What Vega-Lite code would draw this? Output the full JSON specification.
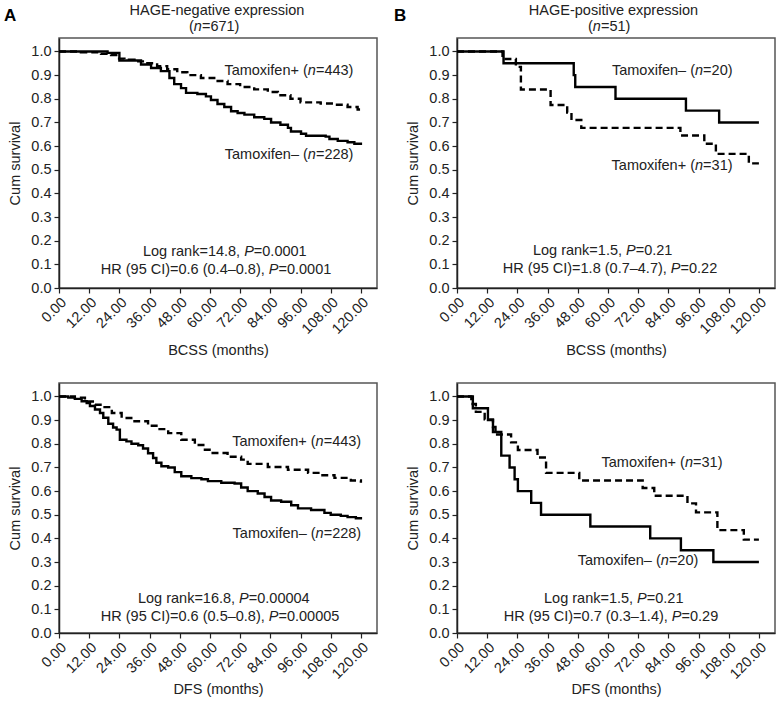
{
  "$schema": "https://vega.github.io/schema/vega-lite/v6.json",
  "padding": {"left": 3, "top": 2, "right": 2, "bottom": 2},
  "background": "white",
  "config": {
    "font": "Liberation Sans",
    "view": {"stroke": "#555", "strokeWidth": 1.5},
    "axis": {"labelFont": "Liberation Sans", "labelFontSize": 14.5, "labelColor": "#222", "titleFont": "Liberation Sans", "titleFontSize": 14.5, "titleFontWeight": "normal", "titleColor": "#222", "domainColor": "#222", "tickColor": "#222", "grid": false, "tickSize": 5, "domainWidth": 1.5, "tickWidth": 1.2},
    "text": {"font": "Liberation Sans", "fontSize": 14.5, "color": "#222"}
  },
  "datasets": {
    "curves": [
      {"p":"TL","g":"Tamoxifen–","t":0,"s":1.0},{"p":"TL","g":"Tamoxifen–","t":19.3,"s":0.994},{"p":"TL","g":"Tamoxifen–","t":24,"s":0.962},{"p":"TL","g":"Tamoxifen–","t":32.6,"s":0.945},{"p":"TL","g":"Tamoxifen–","t":36.6,"s":0.93},{"p":"TL","g":"Tamoxifen–","t":40.5,"s":0.917},{"p":"TL","g":"Tamoxifen–","t":43.9,"s":0.888},{"p":"TL","g":"Tamoxifen–","t":45.8,"s":0.862},{"p":"TL","g":"Tamoxifen–","t":48.5,"s":0.845},{"p":"TL","g":"Tamoxifen–","t":50.5,"s":0.825},{"p":"TL","g":"Tamoxifen–","t":55,"s":0.82},{"p":"TL","g":"Tamoxifen–","t":58.4,"s":0.81},{"p":"TL","g":"Tamoxifen–","t":60.4,"s":0.795},{"p":"TL","g":"Tamoxifen–","t":63,"s":0.778},{"p":"TL","g":"Tamoxifen–","t":65.7,"s":0.765},{"p":"TL","g":"Tamoxifen–","t":68.4,"s":0.747},{"p":"TL","g":"Tamoxifen–","t":71,"s":0.74},{"p":"TL","g":"Tamoxifen–","t":73.7,"s":0.733},{"p":"TL","g":"Tamoxifen–","t":77.6,"s":0.722},{"p":"TL","g":"Tamoxifen–","t":81.6,"s":0.715},{"p":"TL","g":"Tamoxifen–","t":84.3,"s":0.70},{"p":"TL","g":"Tamoxifen–","t":88,"s":0.69},{"p":"TL","g":"Tamoxifen–","t":91,"s":0.677},{"p":"TL","g":"Tamoxifen–","t":92.2,"s":0.662},{"p":"TL","g":"Tamoxifen–","t":96.2,"s":0.652},{"p":"TL","g":"Tamoxifen–","t":98.2,"s":0.644},{"p":"TL","g":"Tamoxifen–","t":106,"s":0.64},{"p":"TL","g":"Tamoxifen–","t":107.5,"s":0.63},{"p":"TL","g":"Tamoxifen–","t":110.8,"s":0.622},{"p":"TL","g":"Tamoxifen–","t":114.7,"s":0.616},{"p":"TL","g":"Tamoxifen–","t":117.4,"s":0.61},{"p":"TL","g":"Tamoxifen–","t":120,"s":0.605},
      {"p":"TL","g":"Tamoxifen+","t":0,"s":1.0},{"p":"TL","g":"Tamoxifen+","t":8.7,"s":0.997},{"p":"TL","g":"Tamoxifen+","t":16.7,"s":0.99},{"p":"TL","g":"Tamoxifen+","t":20.7,"s":0.985},{"p":"TL","g":"Tamoxifen+","t":23.3,"s":0.97},{"p":"TL","g":"Tamoxifen+","t":26,"s":0.965},{"p":"TL","g":"Tamoxifen+","t":30,"s":0.958},{"p":"TL","g":"Tamoxifen+","t":34,"s":0.95},{"p":"TL","g":"Tamoxifen+","t":39,"s":0.938},{"p":"TL","g":"Tamoxifen+","t":43,"s":0.925},{"p":"TL","g":"Tamoxifen+","t":47,"s":0.912},{"p":"TL","g":"Tamoxifen+","t":51,"s":0.9},{"p":"TL","g":"Tamoxifen+","t":56.4,"s":0.888},{"p":"TL","g":"Tamoxifen+","t":61.7,"s":0.875},{"p":"TL","g":"Tamoxifen+","t":67,"s":0.862},{"p":"TL","g":"Tamoxifen+","t":72,"s":0.85},{"p":"TL","g":"Tamoxifen+","t":77.6,"s":0.84},{"p":"TL","g":"Tamoxifen+","t":83,"s":0.829},{"p":"TL","g":"Tamoxifen+","t":87,"s":0.815},{"p":"TL","g":"Tamoxifen+","t":92,"s":0.8},{"p":"TL","g":"Tamoxifen+","t":96,"s":0.785},{"p":"TL","g":"Tamoxifen+","t":104,"s":0.78},{"p":"TL","g":"Tamoxifen+","t":109.4,"s":0.775},{"p":"TL","g":"Tamoxifen+","t":114.7,"s":0.765},{"p":"TL","g":"Tamoxifen+","t":118.7,"s":0.755},{"p":"TL","g":"Tamoxifen+","t":120,"s":0.752},
      {"p":"TR","g":"Tamoxifen–","t":0,"s":1.0},{"p":"TR","g":"Tamoxifen–","t":18.5,"s":0.95},{"p":"TR","g":"Tamoxifen–","t":46.4,"s":0.9},{"p":"TR","g":"Tamoxifen–","t":47,"s":0.85},{"p":"TR","g":"Tamoxifen–","t":63,"s":0.8},{"p":"TR","g":"Tamoxifen–","t":91,"s":0.75},{"p":"TR","g":"Tamoxifen–","t":104.2,"s":0.7},{"p":"TR","g":"Tamoxifen–","t":120,"s":0.7},
      {"p":"TR","g":"Tamoxifen+","t":0,"s":1.0},{"p":"TR","g":"Tamoxifen+","t":18.1,"s":0.968},{"p":"TR","g":"Tamoxifen+","t":23.4,"s":0.935},{"p":"TR","g":"Tamoxifen+","t":25.4,"s":0.839},{"p":"TR","g":"Tamoxifen+","t":37.2,"s":0.774},{"p":"TR","g":"Tamoxifen+","t":43.8,"s":0.742},{"p":"TR","g":"Tamoxifen+","t":45.5,"s":0.71},{"p":"TR","g":"Tamoxifen+","t":49.4,"s":0.677},{"p":"TR","g":"Tamoxifen+","t":88.8,"s":0.645},{"p":"TR","g":"Tamoxifen+","t":98.3,"s":0.61},{"p":"TR","g":"Tamoxifen+","t":102.9,"s":0.567},{"p":"TR","g":"Tamoxifen+","t":116,"s":0.527},{"p":"TR","g":"Tamoxifen+","t":120,"s":0.527},
      {"p":"BL","g":"Tamoxifen–","t":0,"s":1.0},{"p":"BL","g":"Tamoxifen–","t":3.7,"s":0.995},{"p":"BL","g":"Tamoxifen–","t":6.3,"s":0.99},{"p":"BL","g":"Tamoxifen–","t":9,"s":0.98},{"p":"BL","g":"Tamoxifen–","t":11,"s":0.972},{"p":"BL","g":"Tamoxifen–","t":12.3,"s":0.96},{"p":"BL","g":"Tamoxifen–","t":14.3,"s":0.945},{"p":"BL","g":"Tamoxifen–","t":16.3,"s":0.93},{"p":"BL","g":"Tamoxifen–","t":17.6,"s":0.91},{"p":"BL","g":"Tamoxifen–","t":19.6,"s":0.885},{"p":"BL","g":"Tamoxifen–","t":21.5,"s":0.869},{"p":"BL","g":"Tamoxifen–","t":22.9,"s":0.86},{"p":"BL","g":"Tamoxifen–","t":24.2,"s":0.817},{"p":"BL","g":"Tamoxifen–","t":26.8,"s":0.81},{"p":"BL","g":"Tamoxifen–","t":28.8,"s":0.8},{"p":"BL","g":"Tamoxifen–","t":31.5,"s":0.794},{"p":"BL","g":"Tamoxifen–","t":33.4,"s":0.78},{"p":"BL","g":"Tamoxifen–","t":35.4,"s":0.76},{"p":"BL","g":"Tamoxifen–","t":37.4,"s":0.74},{"p":"BL","g":"Tamoxifen–","t":38.7,"s":0.72},{"p":"BL","g":"Tamoxifen–","t":40.7,"s":0.705},{"p":"BL","g":"Tamoxifen–","t":43.4,"s":0.7},{"p":"BL","g":"Tamoxifen–","t":46,"s":0.68},{"p":"BL","g":"Tamoxifen–","t":48.6,"s":0.663},{"p":"BL","g":"Tamoxifen–","t":52.6,"s":0.655},{"p":"BL","g":"Tamoxifen–","t":56.6,"s":0.65},{"p":"BL","g":"Tamoxifen–","t":59.2,"s":0.642},{"p":"BL","g":"Tamoxifen–","t":64.5,"s":0.635},{"p":"BL","g":"Tamoxifen–","t":69.8,"s":0.632},{"p":"BL","g":"Tamoxifen–","t":72.4,"s":0.615},{"p":"BL","g":"Tamoxifen–","t":75,"s":0.6},{"p":"BL","g":"Tamoxifen–","t":79,"s":0.59},{"p":"BL","g":"Tamoxifen–","t":81.7,"s":0.575},{"p":"BL","g":"Tamoxifen–","t":84.3,"s":0.56},{"p":"BL","g":"Tamoxifen–","t":88.3,"s":0.555},{"p":"BL","g":"Tamoxifen–","t":92.3,"s":0.54},{"p":"BL","g":"Tamoxifen–","t":95,"s":0.527},{"p":"BL","g":"Tamoxifen–","t":100.2,"s":0.52},{"p":"BL","g":"Tamoxifen–","t":105.5,"s":0.508},{"p":"BL","g":"Tamoxifen–","t":108,"s":0.5},{"p":"BL","g":"Tamoxifen–","t":112,"s":0.495},{"p":"BL","g":"Tamoxifen–","t":114.7,"s":0.49},{"p":"BL","g":"Tamoxifen–","t":118,"s":0.485},{"p":"BL","g":"Tamoxifen–","t":120,"s":0.48},
      {"p":"BL","g":"Tamoxifen+","t":0,"s":1.0},{"p":"BL","g":"Tamoxifen+","t":6.3,"s":0.995},{"p":"BL","g":"Tamoxifen+","t":10.3,"s":0.979},{"p":"BL","g":"Tamoxifen+","t":14.3,"s":0.965},{"p":"BL","g":"Tamoxifen+","t":17,"s":0.955},{"p":"BL","g":"Tamoxifen+","t":21,"s":0.93},{"p":"BL","g":"Tamoxifen+","t":24.9,"s":0.909},{"p":"BL","g":"Tamoxifen+","t":30,"s":0.895},{"p":"BL","g":"Tamoxifen+","t":35.4,"s":0.876},{"p":"BL","g":"Tamoxifen+","t":39.4,"s":0.862},{"p":"BL","g":"Tamoxifen+","t":43.4,"s":0.845},{"p":"BL","g":"Tamoxifen+","t":48.6,"s":0.817},{"p":"BL","g":"Tamoxifen+","t":54,"s":0.795},{"p":"BL","g":"Tamoxifen+","t":58,"s":0.775},{"p":"BL","g":"Tamoxifen+","t":60.5,"s":0.761},{"p":"BL","g":"Tamoxifen+","t":67,"s":0.745},{"p":"BL","g":"Tamoxifen+","t":72.4,"s":0.733},{"p":"BL","g":"Tamoxifen+","t":75,"s":0.715},{"p":"BL","g":"Tamoxifen+","t":83,"s":0.702},{"p":"BL","g":"Tamoxifen+","t":91,"s":0.69},{"p":"BL","g":"Tamoxifen+","t":99,"s":0.677},{"p":"BL","g":"Tamoxifen+","t":104,"s":0.667},{"p":"BL","g":"Tamoxifen+","t":109.5,"s":0.656},{"p":"BL","g":"Tamoxifen+","t":116,"s":0.645},{"p":"BL","g":"Tamoxifen+","t":120,"s":0.635},
      {"p":"BR","g":"Tamoxifen–","t":0,"s":1.0},{"p":"BR","g":"Tamoxifen–","t":6.3,"s":0.95},{"p":"BR","g":"Tamoxifen–","t":12.3,"s":0.9},{"p":"BR","g":"Tamoxifen–","t":14.3,"s":0.85},{"p":"BR","g":"Tamoxifen–","t":17.6,"s":0.75},{"p":"BR","g":"Tamoxifen–","t":20.9,"s":0.7},{"p":"BR","g":"Tamoxifen–","t":22.9,"s":0.65},{"p":"BR","g":"Tamoxifen–","t":24.2,"s":0.6},{"p":"BR","g":"Tamoxifen–","t":29.5,"s":0.55},{"p":"BR","g":"Tamoxifen–","t":33.4,"s":0.5},{"p":"BR","g":"Tamoxifen–","t":53,"s":0.45},{"p":"BR","g":"Tamoxifen–","t":76.8,"s":0.4},{"p":"BR","g":"Tamoxifen–","t":89,"s":0.35},{"p":"BR","g":"Tamoxifen–","t":101.9,"s":0.3},{"p":"BR","g":"Tamoxifen–","t":120,"s":0.3},
      {"p":"BR","g":"Tamoxifen+","t":0,"s":1.0},{"p":"BR","g":"Tamoxifen+","t":5.7,"s":0.968},{"p":"BR","g":"Tamoxifen+","t":7.5,"s":0.935},{"p":"BR","g":"Tamoxifen+","t":11,"s":0.903},{"p":"BR","g":"Tamoxifen+","t":14.3,"s":0.871},{"p":"BR","g":"Tamoxifen+","t":15.3,"s":0.839},{"p":"BR","g":"Tamoxifen+","t":21.5,"s":0.806},{"p":"BR","g":"Tamoxifen+","t":24.2,"s":0.774},{"p":"BR","g":"Tamoxifen+","t":32,"s":0.742},{"p":"BR","g":"Tamoxifen+","t":35.4,"s":0.677},{"p":"BR","g":"Tamoxifen+","t":48.6,"s":0.645},{"p":"BR","g":"Tamoxifen+","t":73.8,"s":0.613},{"p":"BR","g":"Tamoxifen+","t":78.4,"s":0.58},{"p":"BR","g":"Tamoxifen+","t":91.6,"s":0.548},{"p":"BR","g":"Tamoxifen+","t":95,"s":0.51},{"p":"BR","g":"Tamoxifen+","t":103.5,"s":0.435},{"p":"BR","g":"Tamoxifen+","t":114,"s":0.395},{"p":"BR","g":"Tamoxifen+","t":120,"s":0.395}
    ],
    "notes": [
      {"p":"TL","pre":"Tamoxifen+ (","it":"n","suf":"=443)","t":98.9,"s":0.917},
      {"p":"TL","pre":"Tamoxifen– (","it":"n","suf":"=228)","t":98.9,"s":0.562},
      {"p":"TL","pre":"Log rank=14.8,","it":"P","suf":"=0.0001","t":72.0,"s":0.154},
      {"p":"TL","pre":"HR (95 CI)=0.6 (0.4–0.8),","it":"P","suf":"=0.0001","t":81.8,"s":0.076},
      {"p":"TL","pre":"(","it":"n","suf":"=671)","t":53.6,"s":1.104},
      {"p":"TR","pre":"Tamoxifen– (","it":"n","suf":"=20)","t":94.6,"s":0.918},
      {"p":"TR","pre":"Tamoxifen+ (","it":"n","suf":"=31)","t":94.6,"s":0.516},
      {"p":"TR","pre":"Log rank=1.5,","it":"P","suf":"=0.21","t":65.6,"s":0.156},
      {"p":"TR","pre":"HR (95 CI)=1.8 (0.7–4.7),","it":"P","suf":"=0.22","t":83.4,"s":0.08},
      {"p":"TR","pre":"(","it":"n","suf":"=51)","t":54,"s":1.104},
      {"p":"BL","pre":"Tamoxifen+ (","it":"n","suf":"=443)","t":102,"s":0.808},
      {"p":"BL","pre":"Tamoxifen– (","it":"n","suf":"=228)","t":102,"s":0.42},
      {"p":"BL","pre":"Log rank=16.8,","it":"P","suf":"=0.00004","t":70.0,"s":0.142},
      {"p":"BL","pre":"HR (95 CI)=0.6 (0.5–0.8),","it":"P","suf":"=0.00005","t":81.8,"s":0.067},
      {"p":"BR","pre":"Tamoxifen+ (","it":"n","suf":"=31)","t":90.6,"s":0.717},
      {"p":"BR","pre":"Tamoxifen– (","it":"n","suf":"=20)","t":81,"s":0.303},
      {"p":"BR","pre":"Log rank=1.5,","it":"P","suf":"=0.21","t":70.0,"s":0.143},
      {"p":"BR","pre":"HR (95 CI)=0.7 (0.3–1.4),","it":"P","suf":"=0.29","t":83.8,"s":0.067}
    ],
    "labels": [
      {"p":"TL","kind":"title","text":"HAGE-negative expression","t":62.8,"s":1.171},
      {"p":"TL","kind":"letter","text":"A","t":-21.9,"s":1.15},
      {"p":"TR","kind":"title","text":"HAGE-positive expression","t":62.2,"s":1.171},
      {"p":"TR","kind":"letter","text":"B","t":-25,"s":1.15}
    ]
  },
  "columns": 2,
  "spacing": {"row": 95, "column": 80},
  "bounds": "flush",
  "concat": [
    {
      "width": 318, "height": 250,
      "encoding": {
        "x": {"field": "t", "type": "quantitative", "scale": {"domain": [0, 126.4], "nice": false, "zero": false}, "axis": {"values": [0,12,24,36,48,60,72,84,96,108,120], "format": ".2f", "labelAngle": -45, "labelFlush": false, "labelOverlap": false, "title": "BCSS (months)", "titlePadding": 8}},
        "y": {"field": "s", "type": "quantitative", "scale": {"domain": [0, 1.057], "nice": false, "zero": false}, "axis": {"values": [0,0.1,0.2,0.3,0.4,0.5,0.6,0.7,0.8,0.9,1.0], "format": ".1f", "title": "Cum survival", "titlePadding": 8, "labelPadding": 3}}
      },
      "layer": [
        {"data": {"name": "curves"}, "transform": [{"filter": "datum.p === 'TL'"}], "mark": {"type": "line", "interpolate": "step-after", "color": "black", "strokeWidth": 2.4}, "encoding": {"strokeDash": {"field": "g", "type": "nominal", "scale": {"domain": ["Tamoxifen–", "Tamoxifen+"], "range": [[1, 0], [7, 4]]}, "legend": null}}},
        {"data": {"name": "notes"}, "transform": [{"filter": "datum.p === 'TL'"}], "mark": {"type": "text", "align": "right", "baseline": "middle"}, "encoding": {"text": {"field": "pre", "type": "nominal"}}},
        {"data": {"name": "notes"}, "transform": [{"filter": "datum.p === 'TL' && datum.it === 'n'"}], "mark": {"type": "text", "align": "left", "baseline": "middle", "fontStyle": "italic"}, "encoding": {"text": {"field": "it", "type": "nominal"}}},
        {"data": {"name": "notes"}, "transform": [{"filter": "datum.p === 'TL' && datum.it === 'P'"}], "mark": {"type": "text", "align": "left", "baseline": "middle", "fontStyle": "italic", "dx": 4}, "encoding": {"text": {"field": "it", "type": "nominal"}}},
        {"data": {"name": "notes"}, "transform": [{"filter": "datum.p === 'TL' && datum.it === 'n'"}], "mark": {"type": "text", "align": "left", "baseline": "middle", "dx": 8.1}, "encoding": {"text": {"field": "suf", "type": "nominal"}}},
        {"data": {"name": "notes"}, "transform": [{"filter": "datum.p === 'TL' && datum.it === 'P'"}], "mark": {"type": "text", "align": "left", "baseline": "middle", "dx": 13.7}, "encoding": {"text": {"field": "suf", "type": "nominal"}}},
        {"data": {"name": "labels"}, "transform": [{"filter": "datum.p === 'TL' && datum.kind === 'title'"}], "mark": {"type": "text", "align": "center", "baseline": "middle"}, "encoding": {"text": {"field": "text", "type": "nominal"}}},
        {"data": {"name": "labels"}, "transform": [{"filter": "datum.p === 'TL' && datum.kind === 'letter'"}], "mark": {"type": "text", "align": "left", "baseline": "middle", "fontSize": 17, "fontWeight": "bold", "color": "black"}, "encoding": {"text": {"field": "text", "type": "nominal"}}}
      ]
    },
    {
      "width": 318, "height": 250,
      "encoding": {
        "x": {"field": "t", "type": "quantitative", "scale": {"domain": [0, 126.4], "nice": false, "zero": false}, "axis": {"values": [0,12,24,36,48,60,72,84,96,108,120], "format": ".2f", "labelAngle": -45, "labelFlush": false, "labelOverlap": false, "title": "BCSS (months)", "titlePadding": 8}},
        "y": {"field": "s", "type": "quantitative", "scale": {"domain": [0, 1.057], "nice": false, "zero": false}, "axis": {"values": [0,0.1,0.2,0.3,0.4,0.5,0.6,0.7,0.8,0.9,1.0], "format": ".1f", "title": "Cum survival", "titlePadding": 8, "labelPadding": 3}}
      },
      "layer": [
        {"data": {"name": "curves"}, "transform": [{"filter": "datum.p === 'TR'"}], "mark": {"type": "line", "interpolate": "step-after", "color": "black", "strokeWidth": 2.4}, "encoding": {"strokeDash": {"field": "g", "type": "nominal", "scale": {"domain": ["Tamoxifen–", "Tamoxifen+"], "range": [[1, 0], [7, 4]]}, "legend": null}}},
        {"data": {"name": "notes"}, "transform": [{"filter": "datum.p === 'TR'"}], "mark": {"type": "text", "align": "right", "baseline": "middle"}, "encoding": {"text": {"field": "pre", "type": "nominal"}}},
        {"data": {"name": "notes"}, "transform": [{"filter": "datum.p === 'TR' && datum.it === 'n'"}], "mark": {"type": "text", "align": "left", "baseline": "middle", "fontStyle": "italic"}, "encoding": {"text": {"field": "it", "type": "nominal"}}},
        {"data": {"name": "notes"}, "transform": [{"filter": "datum.p === 'TR' && datum.it === 'P'"}], "mark": {"type": "text", "align": "left", "baseline": "middle", "fontStyle": "italic", "dx": 4}, "encoding": {"text": {"field": "it", "type": "nominal"}}},
        {"data": {"name": "notes"}, "transform": [{"filter": "datum.p === 'TR' && datum.it === 'n'"}], "mark": {"type": "text", "align": "left", "baseline": "middle", "dx": 8.1}, "encoding": {"text": {"field": "suf", "type": "nominal"}}},
        {"data": {"name": "notes"}, "transform": [{"filter": "datum.p === 'TR' && datum.it === 'P'"}], "mark": {"type": "text", "align": "left", "baseline": "middle", "dx": 13.7}, "encoding": {"text": {"field": "suf", "type": "nominal"}}},
        {"data": {"name": "labels"}, "transform": [{"filter": "datum.p === 'TR' && datum.kind === 'title'"}], "mark": {"type": "text", "align": "center", "baseline": "middle"}, "encoding": {"text": {"field": "text", "type": "nominal"}}},
        {"data": {"name": "labels"}, "transform": [{"filter": "datum.p === 'TR' && datum.kind === 'letter'"}], "mark": {"type": "text", "align": "left", "baseline": "middle", "fontSize": 17, "fontWeight": "bold", "color": "black"}, "encoding": {"text": {"field": "text", "type": "nominal"}}}
      ]
    },
    {
      "width": 318, "height": 250,
      "encoding": {
        "x": {"field": "t", "type": "quantitative", "scale": {"domain": [0, 126.4], "nice": false, "zero": false}, "axis": {"values": [0,12,24,36,48,60,72,84,96,108,120], "format": ".2f", "labelAngle": -45, "labelFlush": false, "labelOverlap": false, "title": "DFS (months)", "titlePadding": 2}},
        "y": {"field": "s", "type": "quantitative", "scale": {"domain": [0, 1.057], "nice": false, "zero": false}, "axis": {"values": [0,0.1,0.2,0.3,0.4,0.5,0.6,0.7,0.8,0.9,1.0], "format": ".1f", "title": "Cum survival", "titlePadding": 8, "labelPadding": 3}}
      },
      "layer": [
        {"data": {"name": "curves"}, "transform": [{"filter": "datum.p === 'BL'"}], "mark": {"type": "line", "interpolate": "step-after", "color": "black", "strokeWidth": 2.4}, "encoding": {"strokeDash": {"field": "g", "type": "nominal", "scale": {"domain": ["Tamoxifen–", "Tamoxifen+"], "range": [[1, 0], [7, 4]]}, "legend": null}}},
        {"data": {"name": "notes"}, "transform": [{"filter": "datum.p === 'BL'"}], "mark": {"type": "text", "align": "right", "baseline": "middle"}, "encoding": {"text": {"field": "pre", "type": "nominal"}}},
        {"data": {"name": "notes"}, "transform": [{"filter": "datum.p === 'BL' && datum.it === 'n'"}], "mark": {"type": "text", "align": "left", "baseline": "middle", "fontStyle": "italic"}, "encoding": {"text": {"field": "it", "type": "nominal"}}},
        {"data": {"name": "notes"}, "transform": [{"filter": "datum.p === 'BL' && datum.it === 'P'"}], "mark": {"type": "text", "align": "left", "baseline": "middle", "fontStyle": "italic", "dx": 4}, "encoding": {"text": {"field": "it", "type": "nominal"}}},
        {"data": {"name": "notes"}, "transform": [{"filter": "datum.p === 'BL' && datum.it === 'n'"}], "mark": {"type": "text", "align": "left", "baseline": "middle", "dx": 8.1}, "encoding": {"text": {"field": "suf", "type": "nominal"}}},
        {"data": {"name": "notes"}, "transform": [{"filter": "datum.p === 'BL' && datum.it === 'P'"}], "mark": {"type": "text", "align": "left", "baseline": "middle", "dx": 13.7}, "encoding": {"text": {"field": "suf", "type": "nominal"}}}
      ]
    },
    {
      "width": 318, "height": 250,
      "encoding": {
        "x": {"field": "t", "type": "quantitative", "scale": {"domain": [0, 126.4], "nice": false, "zero": false}, "axis": {"values": [0,12,24,36,48,60,72,84,96,108,120], "format": ".2f", "labelAngle": -45, "labelFlush": false, "labelOverlap": false, "title": "DFS (months)", "titlePadding": 2}},
        "y": {"field": "s", "type": "quantitative", "scale": {"domain": [0, 1.057], "nice": false, "zero": false}, "axis": {"values": [0,0.1,0.2,0.3,0.4,0.5,0.6,0.7,0.8,0.9,1.0], "format": ".1f", "title": "Cum survival", "titlePadding": 8, "labelPadding": 3}}
      },
      "layer": [
        {"data": {"name": "curves"}, "transform": [{"filter": "datum.p === 'BR'"}], "mark": {"type": "line", "interpolate": "step-after", "color": "black", "strokeWidth": 2.4}, "encoding": {"strokeDash": {"field": "g", "type": "nominal", "scale": {"domain": ["Tamoxifen–", "Tamoxifen+"], "range": [[1, 0], [7, 4]]}, "legend": null}}},
        {"data": {"name": "notes"}, "transform": [{"filter": "datum.p === 'BR'"}], "mark": {"type": "text", "align": "right", "baseline": "middle"}, "encoding": {"text": {"field": "pre", "type": "nominal"}}},
        {"data": {"name": "notes"}, "transform": [{"filter": "datum.p === 'BR' && datum.it === 'n'"}], "mark": {"type": "text", "align": "left", "baseline": "middle", "fontStyle": "italic"}, "encoding": {"text": {"field": "it", "type": "nominal"}}},
        {"data": {"name": "notes"}, "transform": [{"filter": "datum.p === 'BR' && datum.it === 'P'"}], "mark": {"type": "text", "align": "left", "baseline": "middle", "fontStyle": "italic", "dx": 4}, "encoding": {"text": {"field": "it", "type": "nominal"}}},
        {"data": {"name": "notes"}, "transform": [{"filter": "datum.p === 'BR' && datum.it === 'n'"}], "mark": {"type": "text", "align": "left", "baseline": "middle", "dx": 8.1}, "encoding": {"text": {"field": "suf", "type": "nominal"}}},
        {"data": {"name": "notes"}, "transform": [{"filter": "datum.p === 'BR' && datum.it === 'P'"}], "mark": {"type": "text", "align": "left", "baseline": "middle", "dx": 13.7}, "encoding": {"text": {"field": "suf", "type": "nominal"}}}
      ]
    }
  ]
}
